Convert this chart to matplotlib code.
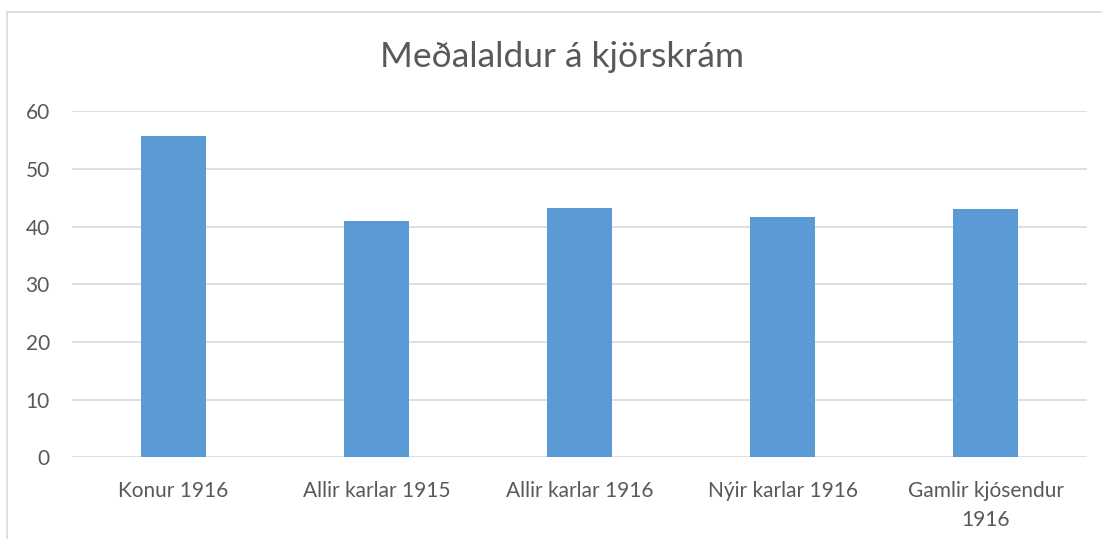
import matplotlib.pyplot as plt
from matplotlib.patches import Rectangle

categories = ["Konur 1916", "Allir karlar 1915", "Allir karlar 1916",
              "Nýir karlar 1916", "Gamlir kjósendur\n1916"]
values = [55.7, 41.0, 43.3, 41.7, 43.0]
yticks = [0, 10, 20, 30, 40, 50, 60]

plt.rcParams["font.family"] = ["Lato", "DejaVu Sans"]
text_color = "#595959"

fig = plt.figure(figsize=(11.02, 5.39), dpi=100)
W, H = 1102, 539
ax = fig.add_axes([72 / W, 1 - 457.4 / H, (1087 - 72) / W, (457.4 - 111.4) / H])

# outer chart border (cropped on right/bottom)
fig.patches.append(Rectangle((7 / W, -0.1), 1.2, 1 - 12 / H + 0.1,
                             transform=fig.transFigure, fill=False,
                             edgecolor="#D9D9D9", linewidth=1.2))

x = range(len(categories))
ax.bar(x, values, width=0.316, color="#5B9BD5", zorder=3)

ax.set_xlim(-0.5, len(categories) - 0.5)
ax.set_ylim(0, 60)
ax.set_yticks(yticks)
ax.set_xticks(list(x))
ax.set_xticklabels(categories, fontsize=15, color=text_color, linespacing=1.55)
ax.tick_params(axis="y", labelsize=15, labelcolor=text_color, length=0, pad=16)
ax.tick_params(axis="x", length=0, pad=17)
ax.grid(axis="y", color="#D9D9D9", linewidth=1.2, zorder=0)
for s in ax.spines.values():
    s.set_visible(False)

fig.text(562 / W, 1 - 57 / H, "Meðalaldur á kjörskrám", ha="center", va="center",
         fontsize=25.5, color=text_color)

fig.savefig("out.png", dpi=100)
